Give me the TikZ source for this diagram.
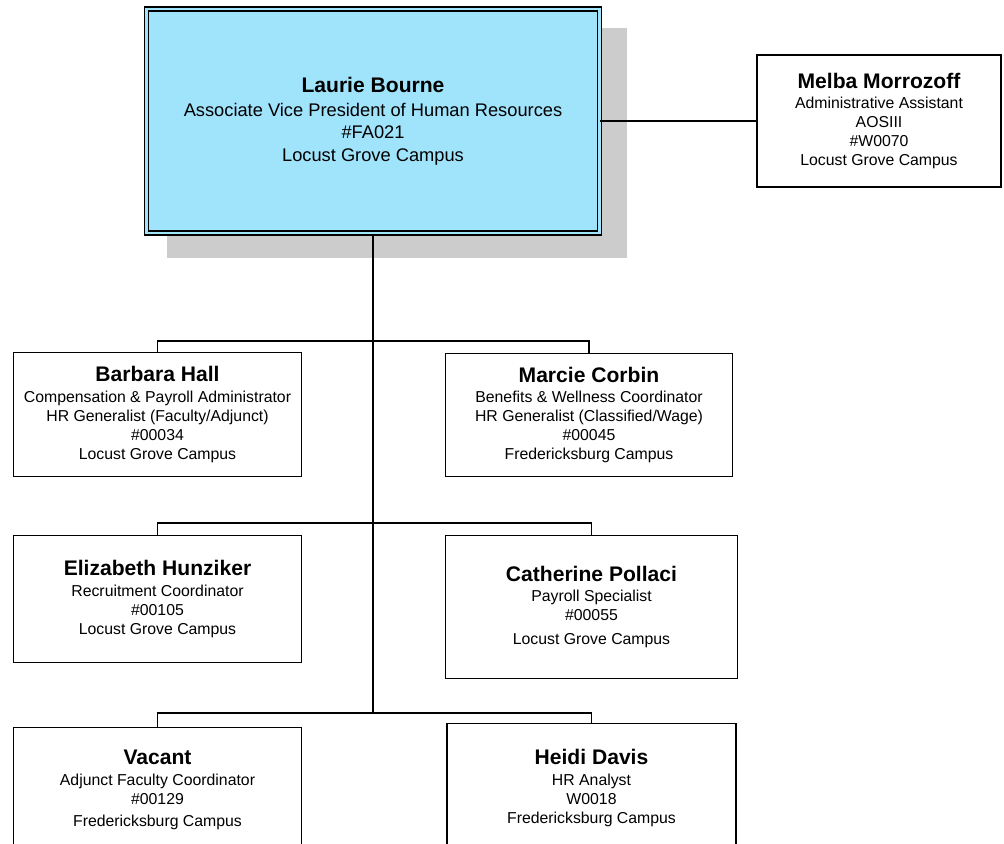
\documentclass[tikz,border=0pt]{standalone}
\usepackage{fontspec}
\setmainfont{Liberation Sans}
\usepackage{tikz}
\definecolor{headblue}{RGB}{160,228,252}
\newcommand{\pname}[1]{{\fontsize{12}{14}\selectfont\bfseries #1}\\[1pt]}
\tikzstyle{head} = [rectangle,
	minimum width=9.06cm, 
	minimum height=4.48cm,
	text centered, 
	align=center,
	draw=black, 
	line width=0.8pt,
	double=headblue,
	double distance=1.3pt,
	fill=headblue,
	font=\fontsize{10.4}{12.8}\selectfont
	]
\tikzstyle{staff} = [rectangle, 
	text centered, 
	align=center,
	draw=black,
	line width=0.85pt,
	fill=white,
	font=\fontsize{9}{10.8}\selectfont
	]
\tikzstyle{link} = [line width=0.85pt]

\begin{document}
\begin{tikzpicture}[x=0.02cm, y=-0.02cm]

\useasboundingbox (0,0) rectangle (1004,843);
\clip (0,0) rectangle (1004,843);

\fill [black!20] (167,28) rectangle (627,258);

\node (pLB) [head] at (373,121) {\pname{Laurie Bourne}Associate Vice President of Human Resources\\ \#FA021\\ Locust Grove Campus};
\node (pMM) [staff, minimum width=4.89cm, minimum height=2.64cm] at (879,121) {\pname{Melba Morrozoff}Administrative Assistant\\ AOSIII\\ \#W0070\\ Locust Grove Campus};

\node (pBH) [staff, minimum width=5.76cm, minimum height=2.48cm] at (157.5,414.5) {\pname{Barbara Hall}Compensation \& Payroll Administrator\\ HR Generalist (Faculty/Adjunct)\\ \#00034\\ Locust Grove Campus};
\node (pMC) [staff, minimum width=5.74cm, minimum height=2.46cm] at (589,415) {\pname{Marcie Corbin}Benefits \& Wellness Coordinator\\ HR Generalist (Classified/Wage)\\ \#00045\\ Fredericksburg Campus};

\node (pEH) [staff, minimum width=5.76cm, minimum height=2.54cm] at (157.5,599) {\pname{Elizabeth Hunziker}Recruitment Coordinator\\ \#00105\\ Locust Grove Campus};
\node (pCP) [staff, minimum width=5.84cm, minimum height=2.86cm] at (591.5,607) {\pname{Catherine Pollaci}Payroll Specialist\\ \#00055\\[3pt] Locust Grove Campus};

\node (pVA) [staff, minimum width=5.76cm, minimum height=2.5cm] at (157.5,790) {\pname{Vacant}Adjunct Faculty Coordinator\\ \#00129\\[2pt] Fredericksburg Campus};
\node (pHD) [staff, minimum width=5.78cm, minimum height=2.58cm] at (591.5,788) {\pname{Heidi Davis}HR Analyst\\ W0018\\ Fredericksburg Campus};

\coordinate (barOne) at (373,341);
\coordinate (barTwo) at (373,523);
\coordinate (barThree) at (373,713);

\draw [link] (pLB) -- (pMM);
\draw [link] (pLB) -- (barThree);

\draw [link] (barOne) -| (pBH);
\draw [link] (barOne) -| (pMC);

\draw [link] (barTwo) -| (pEH);
\draw [link] (barTwo) -| (pCP);

\draw [link] (barThree) -| (pVA);
\draw [link] (barThree) -| (pHD);

\end{tikzpicture}
\end{document}
